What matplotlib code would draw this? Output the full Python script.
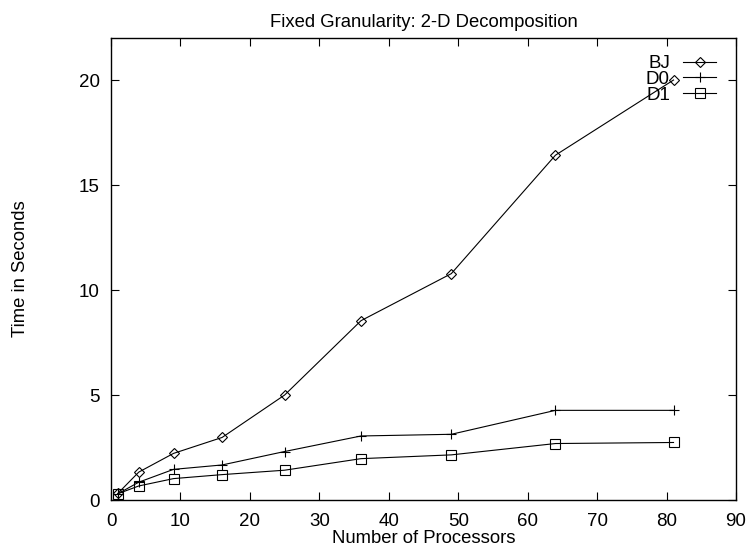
import numpy as np
import matplotlib.pyplot as plt

plt.rcParams['font.family'] = ['Liberation Sans', 'DejaVu Sans']

procs = [1, 4, 9, 16, 25, 36, 49, 64, 81]
bj = [0.32, 1.33, 2.22, 2.98, 5.0, 8.54, 10.78, 16.42, 20.0]
d0 = [0.3, 0.85, 1.46, 1.67, 2.31, 3.05, 3.13, 4.27, 4.27]
d1 = [0.3, 0.67, 1.02, 1.21, 1.42, 1.97, 2.15, 2.69, 2.74]

fig = plt.figure(figsize=(7.48, 5.46), dpi=100)
ax = fig.add_axes([0.1484, 0.0842, 0.8356, 0.8462])

ax.plot(procs, bj, color='k', lw=0.8, marker='D', ms=5.5, mfc='none', mew=0.8, label='BJ')
ax.plot(procs, d0, color='k', lw=0.8, marker='+', ms=7.5, mew=0.8, label='D0')
ax.plot(procs, d1, color='k', lw=0.8, marker='s', ms=7, mfc='none', mew=0.8, label='D1')

ax.set_xlim(0, 90)
ax.set_ylim(0, 22)
ax.set_xticks(np.arange(0, 91, 10))
ax.set_yticks(np.arange(0, 21, 5))
ax.tick_params(direction='in', top=True, right=True, length=6, width=0.8, labelsize=13.5)
ax.tick_params(axis='x', pad=9)
ax.tick_params(axis='y', pad=8)
for s in ax.spines.values():
    s.set_linewidth(1.0)

ax.set_title('Fixed Granularity: 2-D Decomposition', fontsize=13.3, pad=8)
ax.set_xlabel('Number of Processors', fontsize=13.3, labelpad=0)
ax.set_ylabel('Time in Seconds', fontsize=13.3, labelpad=36)

ax.legend(loc='upper right', bbox_to_anchor=(0.968, 0.963), frameon=False, markerfirst=False,
          fontsize=13.5, handlelength=1.76, handletextpad=0.7, labelspacing=-0.07,
          borderaxespad=0, borderpad=0)

plt.savefig('out.png', dpi=100)
